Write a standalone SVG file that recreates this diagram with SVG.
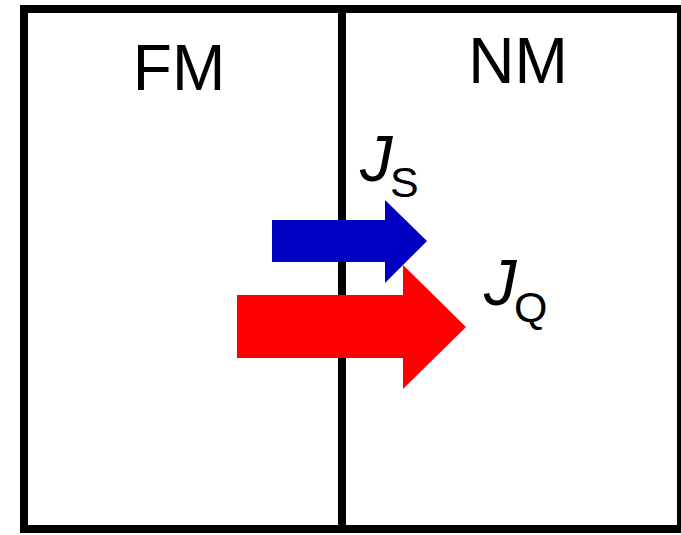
<svg xmlns="http://www.w3.org/2000/svg" width="681" height="535" viewBox="0 0 681 535">
<style>
.frame{fill:none;stroke:#000;stroke-width:8}
.lbl{font-family:"Liberation Sans",Arial,sans-serif;fill:#000}
.big{font-size:64px}
.j{font-size:65px;font-style:italic}
.sub{font-size:43px}
</style>
<rect width="681" height="535" fill="#fff"/>
<g id="frame">
<rect class="frame" x="24" y="9" width="657" height="520"/>
<line class="frame" x1="342" y1="9" x2="342" y2="529"/>
</g>
<g id="FM"><text class="lbl big" x="179" y="90" text-anchor="middle">FM</text></g>
<g id="NM"><text class="lbl big" x="518" y="83" text-anchor="middle">NM</text></g>
<g id="connectors">
<polygon id="Js-arrow" fill="#0000C0" points="272,220 385,220 385,200 427,241 385,283 385,262 272,262"/>
<polygon id="Jq-arrow" fill="#FF0000" points="237,295 403,295 403,265 466,327 403,389 403,358 237,358"/>
</g>
<g id="Js"><text class="lbl" x="360" y="181"><tspan class="j">J</tspan><tspan class="sub" x="390" y="197">S</tspan></text></g>
<g id="Jq"><text class="lbl" x="484" y="305"><tspan class="j">J</tspan><tspan class="sub" x="514" y="322">Q</tspan></text></g>
</svg>
